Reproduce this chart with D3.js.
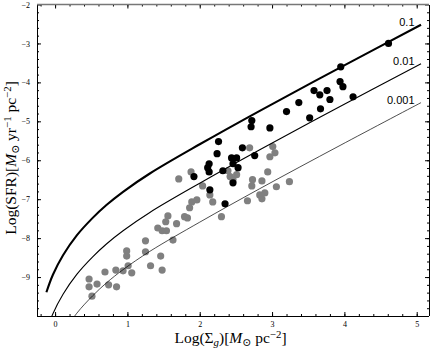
<!DOCTYPE html>
<html><head><meta charset="utf-8">
<script src="https://cdn.jsdelivr.net/npm/d3@7"></script>
<style>body{margin:0;background:#fff}</style>
</head><body><svg id="c" width="436" height="350"></svg>
<script>
// ---------- data ----------
const xTicks = [0, 1, 2, 3, 4, 5];
const yTicks = [-9, -8, -7, -6, -5, -4, -3, -2];
const curveLabels = ["0.1", "0.01", "0.001"];

const curve1X = [-0.12, -0.03, 0.11, 0.30, 0.52, 0.71, 0.94, 1.31, 2.00, 2.83, 3.94, 5.06];
const curve1Y = [-9.39, -8.94, -8.44, -7.93, -7.48, -7.15, -6.81, -6.34, -5.59, -4.73, -3.62, -2.52];
const curve2X = [-0.12, -0.03, 0.11, 0.30, 0.52, 0.71, 0.94, 1.31, 2.00, 2.83, 3.94, 5.06];
const curve2Y = [-10.39, -9.94, -9.44, -8.93, -8.48, -8.15, -7.81, -7.34, -6.59, -5.73, -4.62, -3.52];
const curve3X = [0.11, 0.30, 0.52, 0.71, 0.94, 1.31, 2.00, 2.83, 3.94, 5.06];
const curve3Y = [-10.44, -9.93, -9.48, -9.15, -8.81, -8.34, -7.59, -6.73, -5.62, -4.52];

const blackX = [4.61,3.95,3.94,3.98,3.58,3.66,3.76,3.80,3.67,4.12,3.37,3.20,3.52,2.97,2.72,2.71,2.59,2.44,2.51,2.46,2.53,2.76,2.26,2.24,2.13,2.11,2.13,1.92,2.32,2.14,2.35,2.46];
const blackY = [-3.00,-3.60,-3.98,-4.11,-4.21,-4.32,-4.21,-4.44,-4.68,-4.37,-4.52,-4.75,-4.91,-5.17,-4.98,-5.14,-5.68,-5.94,-5.94,-6.09,-6.19,-5.88,-5.52,-5.83,-6.09,-6.19,-6.30,-6.42,-6.27,-6.76,-7.12,-6.58];

const greyX = [0.47,0.47,0.51,0.58,0.69,0.74,0.84,0.85,0.94,1.01,1.06,0.99,0.99,1.25,1.25,1.32,1.46,1.48,1.42,1.48,1.54,1.56,1.53,1.68,1.63,1.79,1.83,1.86,1.89,1.96,1.71,1.88,2.04,2.14,2.18,2.30,2.39,2.42,2.46,2.51,2.66,2.72,2.69,3.01,3.04,2.97,2.94,2.73,2.86,3.06,3.24,2.90,2.83,2.86];
const greyY = [-9.05,-9.25,-9.49,-9.18,-8.87,-9.20,-8.82,-9.25,-8.84,-8.71,-8.89,-8.33,-8.46,-8.07,-8.35,-8.71,-8.46,-8.82,-7.74,-7.81,-7.81,-7.43,-7.58,-7.63,-8.05,-7.45,-7.48,-7.22,-7.07,-7.02,-6.48,-6.30,-6.66,-6.89,-7.07,-7.45,-6.27,-6.42,-6.50,-6.37,-7.04,-6.66,-5.68,-5.65,-5.81,-5.91,-6.30,-6.50,-6.53,-6.68,-6.55,-6.84,-6.89,-6.99];

// ---------- layout ----------
const L = 37, R = 429, T = 4.5, B = 316;
const svg = d3.select("#c");
const x = d3.scaleLinear().domain([-0.25, 5.17]).range([L, R]);
const y = d3.scaleLinear().domain([-10, -2]).range([B, T]);
const serif = "'Liberation Serif','DejaVu Serif',serif";

svg.append("defs").append("clipPath").attr("id", "clip")
  .append("rect").attr("x", L).attr("y", T).attr("width", R - L).attr("height", B - T);

const minorX = d3.range(-0.2, 5.1, 0.2).map(v => +v.toFixed(1));
const minorY = d3.range(-9.8, -2.0, 0.2).map(v => +v.toFixed(1));

function styleAxis(g) {
  g.select(".domain").remove();
  g.selectAll("line").attr("stroke", "#000").attr("stroke-width", 1);
  g.selectAll("text").attr("font-family", serif).attr("font-size", 8).attr("fill", "#000");
}

svg.append("g").attr("transform", `translate(0,${B})`)
  .call(d3.axisBottom(x).tickValues(minorX).tickSize(-2).tickFormat("")).call(styleAxis);
svg.append("g").attr("transform", `translate(0,${B})`)
  .call(d3.axisBottom(x).tickValues(xTicks).tickSize(-4).tickPadding(5).tickFormat(d3.format("d"))).call(styleAxis);
svg.append("g").attr("transform", `translate(0,${T})`)
  .call(d3.axisTop(x).tickValues(minorX).tickSize(-2).tickFormat("")).call(styleAxis);
svg.append("g").attr("transform", `translate(0,${T})`)
  .call(d3.axisTop(x).tickValues(xTicks).tickSize(-4).tickFormat("")).call(styleAxis);
svg.append("g").attr("transform", `translate(${L},0)`)
  .call(d3.axisLeft(y).tickValues(minorY).tickSize(-2).tickFormat("")).call(styleAxis);
svg.append("g").attr("transform", `translate(${L},0)`)
  .call(d3.axisLeft(y).tickValues(yTicks).tickSize(-4).tickPadding(7).tickFormat(d3.format("d"))).call(styleAxis);
svg.append("g").attr("transform", `translate(${R},0)`)
  .call(d3.axisRight(y).tickValues(minorY).tickSize(-2).tickFormat("")).call(styleAxis);
svg.append("g").attr("transform", `translate(${R},0)`)
  .call(d3.axisRight(y).tickValues(yTicks).tickSize(-4).tickFormat("")).call(styleAxis);

svg.append("line").attr("x1", L).attr("x2", L).attr("y1", T).attr("y2", B).attr("stroke", "#000").attr("shape-rendering","crispEdges");
svg.append("line").attr("x1", L).attr("x2", R).attr("y1", B).attr("y2", B).attr("stroke", "#000").attr("shape-rendering","crispEdges");
svg.append("line").attr("x1", R).attr("x2", R).attr("y1", T).attr("y2", B).attr("stroke", "#000").attr("shape-rendering","crispEdges");
svg.append("line").attr("x1", L).attr("x2", R).attr("y1", T).attr("y2", T).attr("stroke", "#777").attr("stroke-width", 1.6);

const plot = svg.append("g").attr("clip-path", "url(#clip)");
plot.selectAll("circle.g").data(d3.range(greyX.length)).join("circle")
  .attr("class", "g").attr("cx", i => x(greyX[i])).attr("cy", i => y(greyY[i])).attr("r", 3.6).attr("fill", "#808080");
plot.selectAll("circle.b").data(d3.range(blackX.length)).join("circle")
  .attr("class", "b").attr("cx", i => x(blackX[i])).attr("cy", i => y(blackY[i])).attr("r", 3.6).attr("fill", "#000");

const line = d3.line().x(d => x(d[0])).y(d => y(d[1])).curve(d3.curveCatmullRom.alpha(0.5));
const curves = [
  {xs: curve1X, ys: curve1Y, w: 2.1},
  {xs: curve2X, ys: curve2Y, w: 1.1},
  {xs: curve3X, ys: curve3Y, w: 0.7}
];
curves.forEach((c, k) => {
  plot.append("path").attr("d", line(c.xs.map((v, i) => [v, c.ys[i]])))
    .attr("fill", "none").attr("stroke", "#000").attr("stroke-width", c.w);
  svg.append("text").attr("x", x(4.97)).attr("y", y(c.ys[c.ys.length - 1]) + 1)
    .attr("text-anchor", "end").attr("font-family", "'Liberation Sans',Arial,sans-serif")
    .attr("font-size", 11).attr("fill", "#000").text(curveLabels[k]);
});

function rich(t, parts, size) {
  let shift = 0;
  parts.forEach(p => {
    const s = t.append("tspan").text(p.t);
    let target = p.sub ? 0.2 * size : p.sup ? -0.33 * size : 0;
    s.attr("dy", target - shift); shift = target;
    if (p.sub || p.sup) s.attr("font-size", size * 0.7);
    if (p.it) s.attr("font-style", "italic");
  });
}
const fs = 15.5;
const tx = svg.append("text").attr("x", 230.5).attr("y", 343).attr("text-anchor", "middle")
  .attr("font-family", serif).attr("font-size", fs).attr("fill", "#000");
rich(tx, [{t: "Log(Σ"}, {t: "g", it: true, sub: true}, {t: ")["}, {t: "M", it: true}, {t: "⊙", sub: true},
  {t: " pc"}, {t: "−2", sup: true}, {t: "]"}], fs);

const ty = svg.append("text").attr("transform", "translate(16,158) rotate(-90)").attr("text-anchor", "middle")
  .attr("font-family", serif).attr("font-size", fs).attr("fill", "#000");
rich(ty, [{t: "Log(SFR)["}, {t: "M", it: true}, {t: "⊙", sub: true}, {t: " yr"}, {t: "−1", sup: true},
  {t: " pc"}, {t: "−2", sup: true}, {t: "]"}], fs);
</script></body></html>
